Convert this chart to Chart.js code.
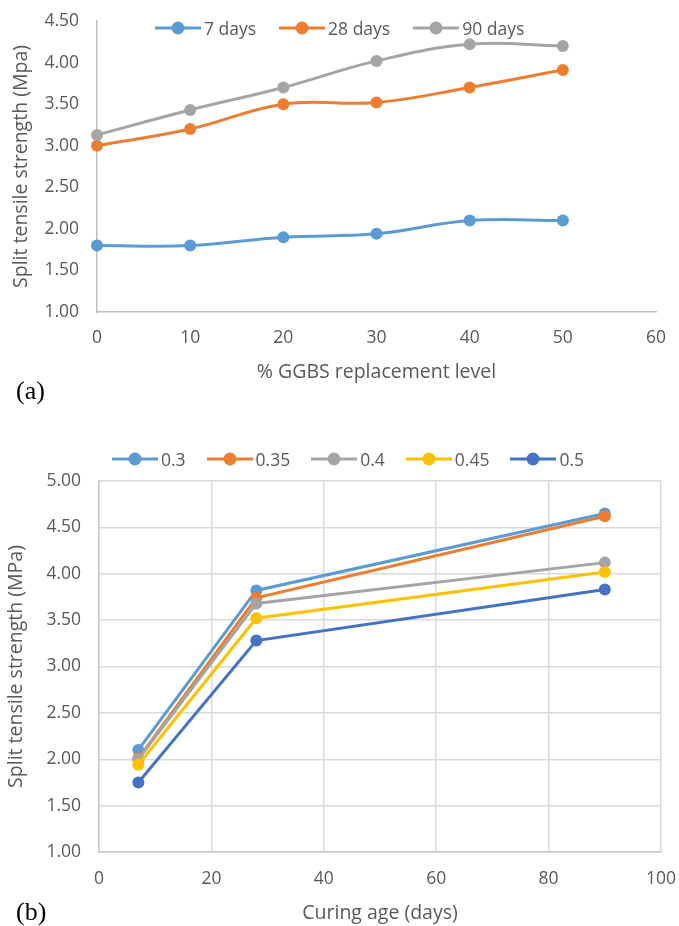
<!DOCTYPE html>
<html>
<head>
<meta charset="utf-8">
<script src="https://cdn.jsdelivr.net/npm/chart.js@4.4.1/dist/chart.umd.min.js"></script>
<style>
  html, body { margin: 0; padding: 0; background: #ffffff; }
  body { width: 679px; height: 926px; position: relative; overflow: hidden; font-family: 'Open Sans', sans-serif; }
  .wrap { position: absolute; left: 0; width: 679px; }
  .legend { position: absolute; display: flex; align-items: center; font-size: 17.5px; color: #595959; white-space: nowrap; }
  .legend .item { display: flex; align-items: center; }
  .legend svg { display: block; margin-right: 3px; }
  .panel-label { position: absolute; font-family: 'Liberation Serif', 'Times New Roman', serif; font-size: 26px; color: #000; line-height: 1; }
</style>
</head>
<body>
<div class="wrap" style="top:0;height:395px;"><canvas id="chartA"></canvas></div>
<div class="wrap" style="top:420px;height:506px;"><canvas id="chartB"></canvas></div>
<div class="legend" id="legendA" style="left:155px;top:16px;"></div>
<div class="legend" id="legendB" style="left:112px;top:447px;"></div>
<div class="panel-label" style="left:16px;top:378px;">(a)</div>
<div class="panel-label" style="left:16px;top:899px;">(b)</div>
<script>
// ---------- Data: chart (a) ----------
const ggbsLevels = [0, 10, 20, 30, 40, 50];
const days7  = [1.80, 1.80, 1.90, 1.94, 2.10, 2.10];
const days28 = [3.00, 3.20, 3.50, 3.52, 3.70, 3.91];
const days90 = [3.13, 3.43, 3.70, 4.02, 4.22, 4.20];
const seriesNamesA = ['7 days', '28 days', '90 days'];

// ---------- Data: chart (b) ----------
const curingAges = [7, 28, 90];
const wc030 = [2.10, 3.82, 4.65];
const wc035 = [2.01, 3.74, 4.62];
const wc040 = [2.00, 3.68, 4.12];
const wc045 = [1.94, 3.52, 4.02];
const wc050 = [1.75, 3.28, 3.83];
const seriesNamesB = ['0.3', '0.35', '0.4', '0.45', '0.5'];

const colorsA = ['#5B9BD5', '#ED7D31', '#A5A5A5'];
const colorsB = ['#5B9BD5', '#ED7D31', '#A5A5A5', '#FFC000', '#4472C4'];

const TXT = '#595959';
const FONT = "'Open Sans', sans-serif";
const TICK_SIZE = 17.5;
const TITLE_SIZE = 19.5;
const CLEAR = 'rgba(0,0,0,0)';

function toPoints(xs, ys) { return xs.map((x, i) => ({ x: x, y: ys[i] })); }

function makeDataset(label, xs, ys, color, idx, tension) {
  return {
    label: label,
    data: toPoints(xs, ys),
    borderColor: color,
    backgroundColor: color,
    pointBackgroundColor: color,
    pointBorderColor: color,
    pointRadius: 6,
    pointHoverRadius: 6,
    pointBorderWidth: 0,
    borderWidth: 3,
    tension: tension,
    clip: false,
    order: -idx
  };
}

function buildLegend(el, datasets, gap) {
  datasets.forEach((ds, i) => {
    const item = document.createElement('div');
    item.className = 'item';
    if (i < datasets.length - 1) item.style.marginRight = gap + 'px';
    item.innerHTML = '<svg width="46" height="16"><line x1="0" y1="8" x2="46" y2="8" stroke="' + ds.borderColor +
      '" stroke-width="3"/><circle cx="23" cy="8" r="6.5" fill="' + ds.borderColor + '"/></svg><span>' + ds.label + '</span>';
    el.appendChild(item);
  });
}

Chart.defaults.font.family = FONT;
Chart.defaults.color = TXT;
Chart.defaults.animation = false;

// ---------- Chart (a) ----------
const dataA = [days7, days28, days90];
const datasetsA = seriesNamesA.map((n, i) => makeDataset(n, ggbsLevels, dataA[i], colorsA[i], i, 0.4));
const HA = 395;
new Chart(document.getElementById('chartA'), {
  type: 'line',
  data: { datasets: datasetsA },
  options: {
    responsive: true,
    maintainAspectRatio: false,
    layout: { padding: { top: 21, right: 23, left: 0, bottom: 0 } },
    plugins: { legend: { display: false }, tooltip: { enabled: false } },
    scales: {
      x: {
        type: 'linear', min: 0, max: 60,
        afterFit: s => { s.height = HA - 312; },
        ticks: { stepSize: 10, padding: 2, font: { size: TICK_SIZE }, color: TXT, maxRotation: 0 },
        grid: { display: true, color: CLEAR, drawTicks: true, tickLength: 14, tickColor: CLEAR },
        border: { display: true, color: '#BFBFBF', width: 1.5 },
        title: { display: true, text: '% GGBS replacement level', font: { size: TITLE_SIZE }, color: TXT, padding: { top: 0, bottom: 11 } }
      },
      y: {
        type: 'linear', min: 1, max: 4.5,
        afterFit: s => { s.width = 97; },
        ticks: { stepSize: 0.5, padding: 2, font: { size: TICK_SIZE }, color: TXT, callback: v => v.toFixed(2) },
        grid: { display: true, color: CLEAR, drawTicks: true, tickLength: 16, tickColor: CLEAR },
        border: { display: true, color: '#BFBFBF', width: 1.5 },
        title: { display: true, text: 'Split tensile strength (Mpa)', font: { size: TITLE_SIZE }, color: TXT, padding: { top: 10, bottom: 0 } }
      }
    }
  }
});
buildLegend(document.getElementById('legendA'), datasetsA, 23);

// ---------- Chart (b) ----------
const dataB = [wc030, wc035, wc040, wc045, wc050];
const datasetsB = seriesNamesB.map((n, i) => makeDataset(n, curingAges, dataB[i], colorsB[i], i, 0));
const HB = 506;
new Chart(document.getElementById('chartB'), {
  type: 'line',
  data: { datasets: datasetsB },
  options: {
    responsive: true,
    maintainAspectRatio: false,
    layout: { padding: { top: 61, right: 18, left: 0, bottom: 0 } },
    plugins: { legend: { display: false }, tooltip: { enabled: false } },
    scales: {
      x: {
        type: 'linear', min: 0, max: 100,
        afterFit: s => { s.height = HB - 432; },
        ticks: { stepSize: 20, padding: 2, font: { size: TICK_SIZE }, color: TXT, maxRotation: 0 },
        grid: { display: true, drawTicks: true, tickLength: 15, tickColor: CLEAR, color: '#D9D9D9', lineWidth: 1.5 },
        border: { display: true, color: '#C8C8C8', width: 1.5 },
        title: { display: true, text: 'Curing age (days)', font: { size: TITLE_SIZE }, color: TXT, padding: { top: 0, bottom: 1 } }
      },
      y: {
        type: 'linear', min: 1, max: 5,
        afterFit: s => { s.width = 99; },
        ticks: { stepSize: 0.5, padding: 2, font: { size: TICK_SIZE }, color: TXT, callback: v => v.toFixed(2) },
        grid: { display: true, drawTicks: true, tickLength: 16, tickColor: CLEAR, color: '#D9D9D9', lineWidth: 1.5 },
        border: { display: true, color: '#C8C8C8', width: 1.5 },
        title: { display: true, text: 'Split tensile strength (MPa)', font: { size: TITLE_SIZE }, color: TXT, padding: { top: 5, bottom: 0 } }
      }
    }
  }
});
buildLegend(document.getElementById('legendB'), datasetsB, 21);
</script>
</body>
</html>
